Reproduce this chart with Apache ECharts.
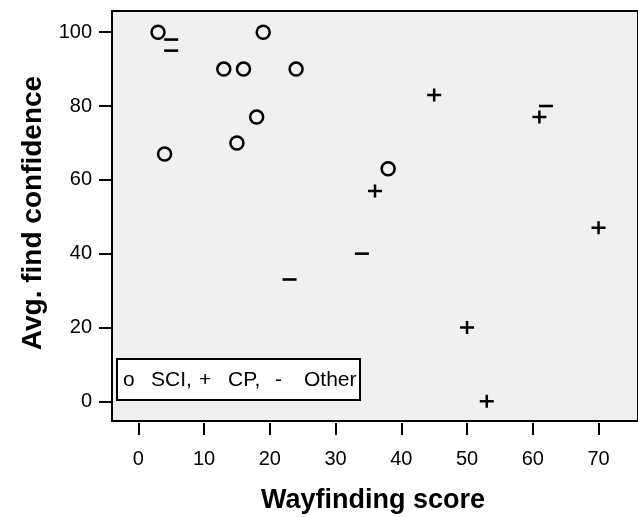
<!DOCTYPE html>
<html>
<head>
<meta charset="utf-8">
<script src="https://cdn.jsdelivr.net/npm/echarts@6/dist/echarts.min.js"></script>
<style>
html,body{margin:0;padding:0;background:#fff;}
#chart{width:638px;height:517px;}
</style>
</head>
<body>
<div id="chart"></div>
<script>
// Data (Wayfinding score, Avg. find confidence)
const sciData = [[3,100],[4,67],[13,90],[15,70],[16,90],[18,77],[19,100],[24,90],[38,63]];
const cpData = [[36,57],[45,83],[50,20],[53,0],[61,77],[70,47]];
const otherData = [[5,98],[5,95],[23,33],[34,40],[62,80]];
const xTicks = [0,10,20,30,40,50,60,70];
const yTicks = [0,20,40,60,80,100];
const xTitle = 'Wayfinding score';
const yTitle = 'Avg. find confidence';
const legendParts = ['o', 'SCI,', '+', 'CP,', '-', 'Other'];

const FONT = '"Liberation Sans", Arial, Helvetica, sans-serif';
const chart = echarts.init(document.getElementById('chart'), null, {renderer: 'canvas'});
const plusPath = 'path://M5.75,0H8.25V5.25H14V7.75H8.25V13H5.75V7.75H0V5.25H5.75Z';
const legendX = [123, 151, 199, 228, 275, 304];

chart.setOption({
  animation: false,
  backgroundColor: '#ffffff',
  grid: {
    left: 112, top: 11, right: -24.4, bottom: 96,
    show: true, backgroundColor: '#f0f0f0', borderColor: '#000', borderWidth: 2
  },
  xAxis: {
    type: 'value', min: -4, max: 76, offset: 2,
    axisLine: {show: false, onZero: false},
    axisTick: {show: true, length: 12, lineStyle: {color: '#000', width: 2}, customValues: xTicks},
    axisLabel: {show: true, margin: 26, color: '#000', fontSize: 20, fontFamily: FONT, customValues: xTicks},
    splitLine: {show: false}
  },
  yAxis: {
    type: 'value', min: -5.34, max: 105.74,
    axisLine: {show: true, onZero: false, lineStyle: {color: '#000', width: 2}},
    axisTick: {show: true, length: 13, lineStyle: {color: '#000', width: 2}, customValues: yTicks},
    axisLabel: {show: true, margin: 20, color: '#000', fontSize: 20, fontFamily: FONT, customValues: yTicks},
    splitLine: {show: false}
  },
  series: [
    {
      name: 'SCI', type: 'scatter', data: sciData,
      symbol: 'circle', symbolSize: 13,
      itemStyle: {color: 'rgba(0,0,0,0)', borderColor: '#000', borderWidth: 2.5, opacity: 1}
    },
    {
      name: 'CP', type: 'scatter', data: cpData,
      symbol: plusPath, symbolSize: [14, 13],
      itemStyle: {color: '#000', opacity: 1}
    },
    {
      name: 'Other', type: 'scatter', data: otherData,
      symbol: 'rect', symbolSize: [14, 2.6],
      itemStyle: {color: '#000', opacity: 1}
    }
  ],
  graphic: [
    {
      type: 'rect', z: 10,
      shape: {x: 117, y: 359, width: 243, height: 41},
      style: {fill: '#fff', stroke: '#000', lineWidth: 2}
    }
  ].concat(legendParts.map((t, i) => ({
      type: 'text', z: 11, x: legendX[i], y: 380,
      style: {text: t, font: '21px ' + FONT, fill: '#000', verticalAlign: 'middle', align: 'left'}
  }))).concat([
    {
      type: 'text', x: 373, y: 501,
      style: {text: xTitle, font: 'bold 27px ' + FONT, fill: '#000', align: 'center', verticalAlign: 'middle'}
    },
    {
      type: 'text', x: 33, y: 213, rotation: Math.PI / 2,
      style: {text: yTitle, font: 'bold 28px ' + FONT, fill: '#000', align: 'center', verticalAlign: 'middle'}
    }
  ])
});
</script>
</body>
</html>
